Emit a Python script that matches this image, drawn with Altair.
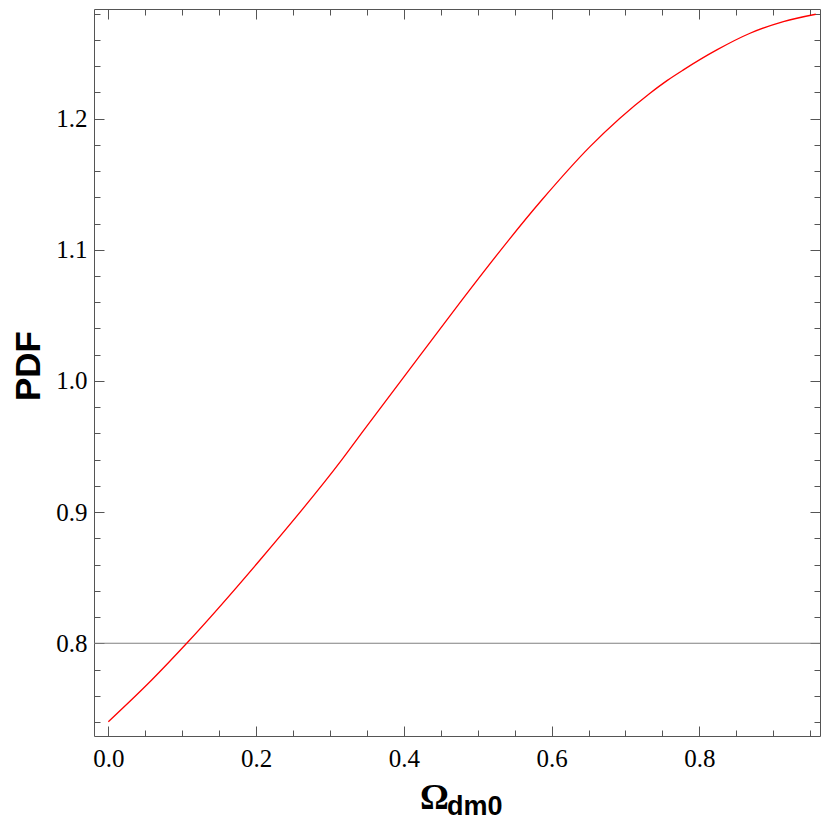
import altair as alt
import pandas as pd

# ---- data ----
omega = [0.0, 0.0587, 0.1061, 0.2053, 0.3159, 0.3461, 0.4481, 0.4788, 0.5867,
         0.6520, 0.7332, 0.7567, 0.7784, 0.8236, 0.8686, 0.9137, 0.9576]
pdf = [0.7402, 0.7720, 0.8000, 0.8635, 0.9398, 0.9627, 1.0389, 1.0618, 1.1380,
       1.1787, 1.2194, 1.2292, 1.2372, 1.2524, 1.2651, 1.2740, 1.2796]

x_major = [0.0, 0.2, 0.4, 0.6, 0.8]
x_minor = [0.05, 0.1, 0.15, 0.25, 0.3, 0.35, 0.45, 0.5, 0.55, 0.65, 0.7, 0.75,
           0.85, 0.9, 0.95]
y_major = [0.8, 0.9, 1.0, 1.1, 1.2]
y_minor = [0.74, 0.76, 0.78, 0.82, 0.84, 0.86, 0.88, 0.92, 0.94, 0.96, 0.98,
           1.02, 1.04, 1.06, 1.08, 1.12, 1.14, 1.16, 1.18, 1.22, 1.24, 1.26, 1.28]
axis_origin = [0.8]
x_domain = [-0.0194, 0.9633]
y_domain = [0.7293, 1.2836]

x_title_main = ["Ω"]
x_title_sub = ["dm0"]
y_title = ["PDF"]

W, H = 726, 727
FRAME = "#555555"

df = pd.DataFrame({"omega": omega, "pdf": pdf})
xs = alt.Scale(domain=x_domain, nice=False, zero=False)
ys = alt.Scale(domain=y_domain, nice=False, zero=False)


def tick_axis(values, orient, offset, size):
    return alt.Axis(values=values, orient=orient, offset=offset, tickSize=size,
                    labels=False, domain=False, grid=False, title=None,
                    ticks=True, tickColor=FRAME, tickWidth=1)


def ghost(xaxis, yaxis):
    return alt.Chart(df).mark_line(opacity=0).encode(
        x=alt.X("omega:Q", scale=xs, axis=xaxis),
        y=alt.Y("pdf:Q", scale=ys, axis=yaxis),
    )


label_font = "Liberation Serif"
LFS = 25

origin_rule = alt.Chart(pd.DataFrame({"v": axis_origin})).mark_rule(
    color="#808080", strokeWidth=1.2
).encode(y=alt.Y("v:Q", scale=ys, axis=None))

curve = alt.Chart(df).mark_line(
    color="#ff0000", strokeWidth=1.3, interpolate="monotone"
).encode(
    x=alt.X("omega:Q", scale=xs,
            axis=alt.Axis(values=x_major, format=".1f", orient="bottom",
                          ticks=False, tickSize=0, domain=False, grid=False,
                          labelFont=label_font, labelFontSize=LFS,
                          labelColor="black", labelPadding=10,
                          labelFlush=False, title=None)),
    y=alt.Y("pdf:Q", scale=ys,
            axis=alt.Axis(values=y_major, format=".1f", orient="left",
                          ticks=False, tickSize=0, domain=False, grid=False,
                          labelFont=label_font, labelFontSize=LFS,
                          labelColor="black", labelPadding=7,
                          labelFlush=False, title=None)),
)

# inward ticks on all four frame edges
g1 = ghost(tick_axis(x_major, "top", -H, 10), tick_axis(y_major, "right", -W, 10))
g2 = ghost(tick_axis(x_minor, "top", -H, 6), tick_axis(y_minor, "right", -W, 6))
g3 = ghost(tick_axis(x_major, "bottom", -H, 10), tick_axis(y_major, "left", -W, 10))
g4 = ghost(tick_axis(x_minor, "bottom", -H, 6), tick_axis(y_minor, "left", -W, 6))

t_main = alt.Chart(pd.DataFrame({"t": x_title_main})).mark_text(
    align="left", baseline="alphabetic", font="Liberation Serif",
    fontWeight="bold", fontSize=36, color="black"
).encode(text="t:N", x=alt.value(326), y=alt.value(800))

t_sub = alt.Chart(pd.DataFrame({"t": x_title_sub})).mark_text(
    align="left", baseline="alphabetic", font="Liberation Sans",
    fontWeight="bold", fontSize=27, color="black"
).encode(text="t:N", x=alt.value(353), y=alt.value(806))

t_y = alt.Chart(pd.DataFrame({"t": y_title})).mark_text(
    align="center", baseline="alphabetic", font="Liberation Sans",
    fontWeight="bold", fontSize=35, color="black", angle=270
).encode(text="t:N", x=alt.value(-54), y=alt.value(357))

chart = alt.layer(
    origin_rule, g1, g2, g3, g4, curve, t_main, t_sub, t_y
).resolve_axis(
    x="independent", y="independent"
).properties(
    width=W, height=H,
    autosize=alt.AutoSizeParams(type="none"),
    padding={"left": 86, "top": 1, "right": 1, "bottom": 85},
    background="white",
).configure_view(stroke=FRAME, strokeWidth=1)

chart.save("out.html", embed_options={"renderer": "svg", "actions": False})
